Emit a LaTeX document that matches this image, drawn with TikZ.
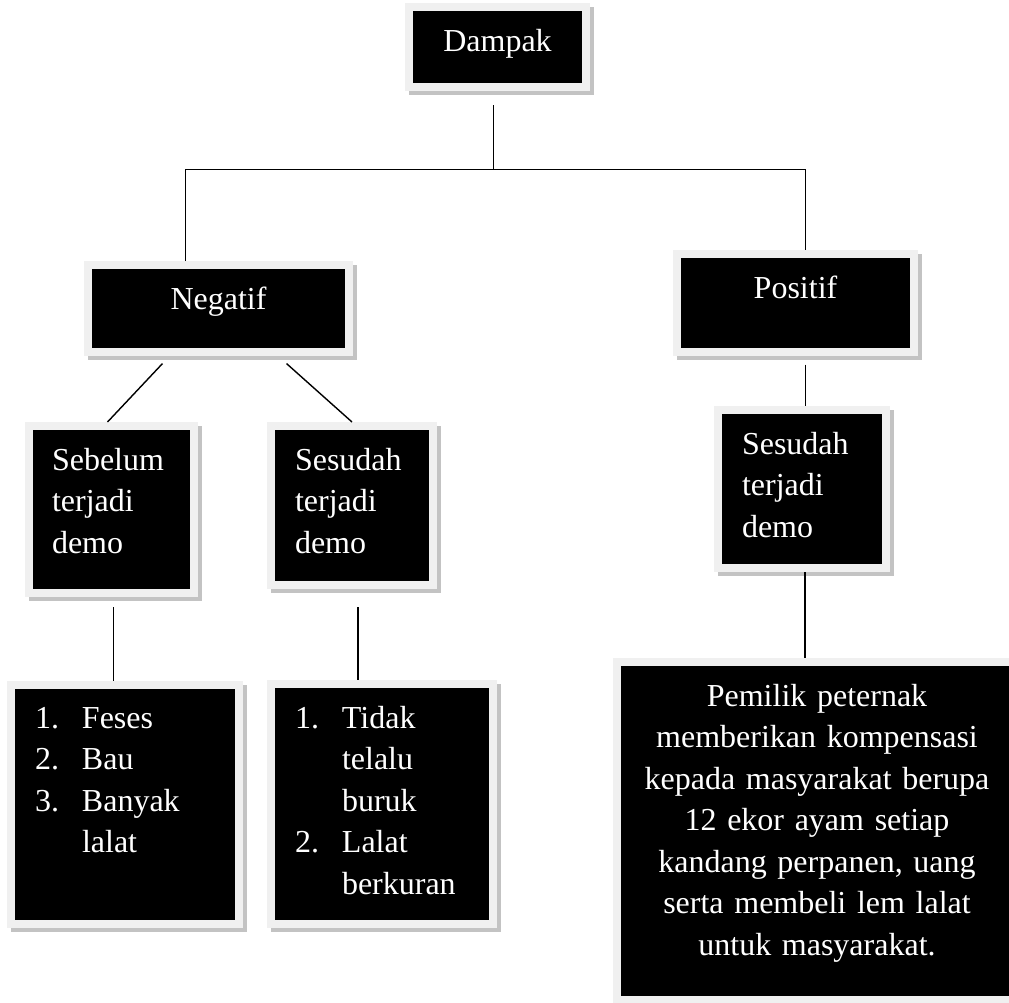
\documentclass[tikz,border=0pt]{standalone}
\usepackage{fontspec}
\setmainfont{Liberation Serif}
\definecolor{boxgray}{RGB}{240,240,240}
\definecolor{shadowgray}{RGB}{195,195,195}
\newcommand{\listnum}[1]{\makebox[47pt][l]{#1}}
\tikzstyle{blackbox} = [rectangle, anchor=north west, fill=black, draw=boxgray, line width=8pt, outer sep=4pt, inner ysep=22pt, text=white, font={\fontsize{32}{41.5}\selectfont}, preaction={fill=shadowgray, draw=shadowgray, line width=8pt, transform canvas={xshift=4pt, yshift=-4pt}}]
\tikzstyle{line} = [line width=1.4pt, black]
\begin{document}
\begin{tikzpicture}[x=1pt, y=-1pt]

    \useasboundingbox (0,0) rectangle (1009,1002);

    \node (dampak)       [blackbox, align=center, inner xsep=10pt, text width=157pt, text depth=14pt]  at (405,3)   {Dampak};
    \node (negatif)      [blackbox, align=center, inner xsep=10pt, text width=241pt, text depth=20pt]  at (84,261)  {Negatif};
    \node (positif)      [blackbox, align=center, inner xsep=10pt, text width=217pt, text depth=31pt]  at (673,250) {Positif};
    \node (sebelum)      [blackbox, align=left, inner xsep=23pt, text width=119pt, text depth=101pt]   at (25,422)  {Sebelum\\terjadi\\demo};
    \node (sesudahneg)   [blackbox, align=left, inner xsep=24pt, text width=114pt, text depth=93pt]    at (267,422) {Sesudah\\terjadi\\demo};
    \node (sesudahpos)   [blackbox, align=left, inner xsep=24pt, text width=120pt, text depth=92pt]    at (714,406) {Sesudah\\terjadi\\demo};
    \node (listsebelum)  [blackbox, align=left, inner xsep=24pt, text width=180pt, text depth=173.5pt] at (7,681)
        {\listnum{1.}Feses\\\listnum{2.}Bau\\\listnum{3.}Banyak\\\hspace*{47pt}lalat};
    \node (listsesudah)  [blackbox, align=left, inner xsep=24pt, text width=174pt, text depth=174pt]   at (267,680)
        {\listnum{1.}Tidak\\\hspace*{47pt}telalu\\\hspace*{47pt}buruk\\\listnum{2.}Lalat\\\hspace*{47pt}berkuran};
    \node (kompensasi)   [blackbox, align=center, inner xsep=10pt, text width=380pt, text depth=272pt] at (613,658)
        {Pemilik peternak\\memberikan kompensasi\\kepada masyarakat berupa\\12 ekor ayam setiap\\kandang perpanen, uang\\serta membeli lem lalat\\untuk masyarakat.};

    \draw [line] ([xshift=-4pt, yshift=-14pt]dampak.south) -- ++(0,64) coordinate (fork);
    \draw [line] ([xshift=-33pt]negatif.north) |- (fork) -| ([xshift=10pt]positif.north);
    \draw [line] ([xshift=-56pt, yshift=-8pt]negatif.south) -- ([xshift=-4pt]sebelum.north);
    \draw [line] ([xshift=68pt, yshift=-8pt]negatif.south)  -- (sesudahneg.north);
    \draw [line] ([xshift=2pt, yshift=-10pt]sebelum.south) coordinate (s1)    -- (s1 |- listsebelum.north);
    \draw [line] ([xshift=6pt, yshift=-18pt]sesudahneg.south) coordinate (s2) -- (s2 |- listsesudah.north);
    \draw [line] ([xshift=10pt, yshift=-9pt]positif.south) coordinate (p1)    -- (p1 |- sesudahpos.north);
    \draw [line] ([xshift=3pt]sesudahpos.south) coordinate (p2)               -- (p2 |- kompensasi.north);

\end{tikzpicture}
\end{document}
